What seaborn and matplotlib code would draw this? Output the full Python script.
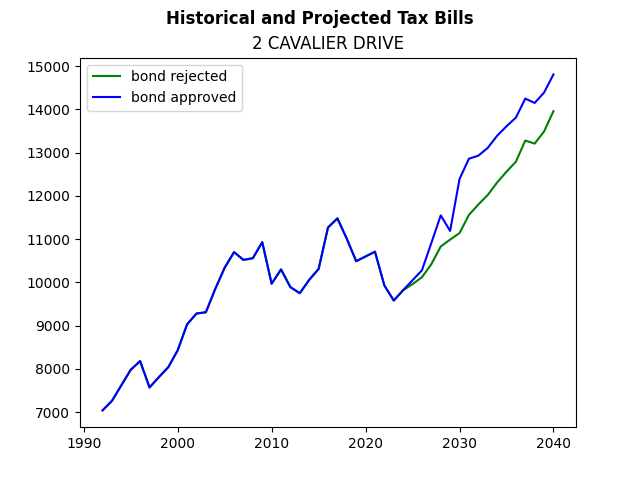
import pandas as pd
import matplotlib
matplotlib.use("Agg")
import matplotlib.pyplot as plt
import seaborn as sns

years = list(range(1992, 2041))

history = [7040, 7260, 7620, 7980, 8180, 7570, 7810, 8040, 8430, 9030,
           9280, 9310, 9850, 10340, 10700, 10520, 10560, 10930, 9970, 10300,
           9890, 9750, 10060, 10310, 11270, 11480, 11010, 10490, 10600, 10710,
           9930, 9580, 9820]

approved_future = [10050, 10280, 10910, 11550, 11190, 12390, 12860, 12930,
                   13110, 13390, 13610, 13810, 14250, 14150, 14390, 14810]
rejected_future = [9960, 10120, 10420, 10830, 10990, 11140, 11560, 11800,
                   12020, 12310, 12560, 12790, 13280, 13210, 13490, 13960]

approved = history + approved_future
rejected = history + rejected_future

df = pd.concat([
    pd.DataFrame({"Year": years, "Tax": rejected, "Scenario": "bond rejected"}),
    pd.DataFrame({"Year": years, "Tax": approved, "Scenario": "bond approved"}),
])

fig, ax = plt.subplots(figsize=(6.4, 4.8), dpi=100)
sns.lineplot(data=df, x="Year", y="Tax", hue="Scenario",
             palette={"bond rejected": "green", "bond approved": "blue"}, ax=ax)

fig.suptitle("Historical and Projected Tax Bills", fontweight="bold")
ax.set_title("2 CAVALIER DRIVE")
ax.set_xlabel("")
ax.set_ylabel("")
ax.legend(loc="upper left")

fig.savefig("out.png")
